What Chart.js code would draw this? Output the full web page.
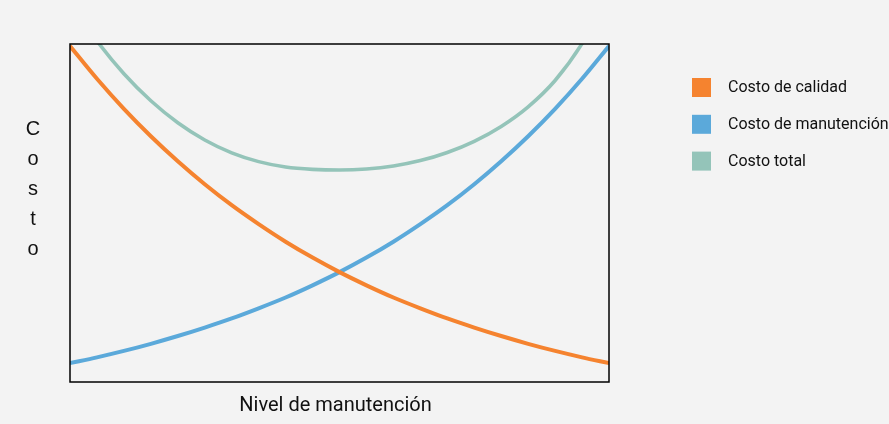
<!DOCTYPE html>
<html>
<head>
<meta charset="utf-8">
<script src="https://cdn.jsdelivr.net/npm/chart.js@4/dist/chart.umd.min.js"></script>
<style>
html,body{margin:0;padding:0;background:#f3f3f3;}
#wrap{width:889px;height:424px;position:relative;}
</style>
</head>
<body>
<div id="wrap"><canvas id="c" width="889" height="424"></canvas></div>
<script>
// Nivel de manutención (0 = mínimo, 100 = máximo)
const xLevels = [0,5,10,15,20,25,30,35,40,45,50,55,60,65,70,75,80,85,90,95,100];
const costoCalidad = [99.4,89.7,80.8,72.7,65.3,58.5,52.3,46.7,41.5,36.8,32.5,28.6,25.0,21.8,18.8,16.1,13.6,11.3,9.2,7.3,5.6];
const costoManutencion = [5.6,7.3,9.2,11.3,13.6,16.1,18.8,21.8,25.0,28.6,32.5,36.8,41.5,46.7,52.3,58.5,65.3,72.7,80.8,89.7,99.4];
const costoTotal = [112.3,100.9,91.2,83.2,76.7,71.6,67.8,65.2,63.6,62.9,62.7,63.0,63.9,65.5,67.9,71.2,75.6,81.4,89.2,100.1,114.6];
const seriesLabels = ['Costo de calidad','Costo de manutención','Costo total'];
const seriesColors = ['#F5832F','#5BA9DA','#94C4B9'];
const xTitle = 'Nivel de manutención';
const yTitle = 'Costo';

function pts(arr){ return xLevels.map((x,i)=>({x:x,y:arr[i]})); }

const decor = {
  id:'decor',
  afterDatasetsDraw(chart){
    const {ctx, chartArea:a} = chart;
    ctx.save();
    ctx.strokeStyle = '#000';
    ctx.lineWidth = 1.5;
    ctx.strokeRect(a.left, a.top, a.right - a.left, a.bottom - a.top);
    ctx.restore();
  },
  afterDraw(chart){
    const {ctx, chartArea:a} = chart;
    ctx.save();
    // x title
    ctx.fillStyle = '#111';
    ctx.font = '20px Roboto, "Liberation Sans", sans-serif';
    ctx.textAlign = 'center';
    ctx.textBaseline = 'alphabetic';
    ctx.fillText(xTitle, (a.left + a.right)/2 - 4, 411);
    // y title stacked letters
    ctx.font = '20px "Liberation Sans", Arial, sans-serif';
    const letters = Array.from(yTitle);
    letters.forEach((ch,i)=>{ ctx.fillText(ch, 33, 135 + i*30); });
    // legend
    ctx.textAlign = 'left';
    ctx.textBaseline = 'middle';
    ctx.font = '16px Roboto, "Liberation Sans", sans-serif';
    chart.data.datasets.forEach((ds,i)=>{
      const cy = 87.5 + i*36.8;
      ctx.fillStyle = ds.borderColor;
      ctx.fillRect(692, cy - 9.5, 19, 19);
      ctx.fillStyle = '#111';
      ctx.fillText(ds.label, 728, cy + 0.5);
    });
    ctx.restore();
  }
};

new Chart(document.getElementById('c'), {
  type:'line',
  data:{
    datasets:[
      {label:seriesLabels[0], data:pts(costoCalidad), borderColor:seriesColors[0], backgroundColor:seriesColors[0], borderWidth:4},
      {label:seriesLabels[1], data:pts(costoManutencion), borderColor:seriesColors[1], backgroundColor:seriesColors[1], borderWidth:4},
      {label:seriesLabels[2], data:pts(costoTotal), borderColor:seriesColors[2], backgroundColor:seriesColors[2], borderWidth:3.6}
    ]
  },
  options:{
    responsive:false,
    animation:false,
    layout:{padding:{left:70, right:280, top:44, bottom:42}},
    elements:{point:{radius:0}, line:{cubicInterpolationMode:'monotone', fill:false}},
    datasets:{line:{clip:0}},
    plugins:{legend:{display:false}, tooltip:{enabled:false}},
    scales:{
      x:{type:'linear', min:0, max:100, display:false},
      y:{type:'linear', min:0, max:100, display:false}
    }
  },
  plugins:[decor]
});
</script>
</body>
</html>
